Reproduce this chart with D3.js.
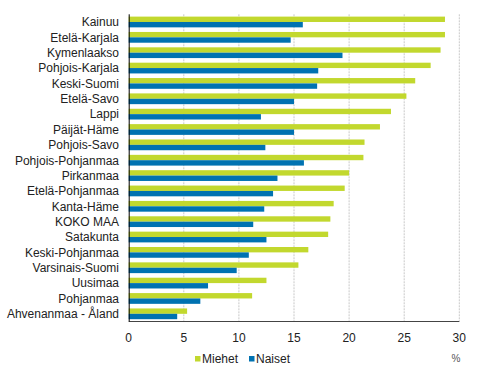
<!DOCTYPE html>
<html>
<head>
<meta charset="utf-8">
<script src="https://cdn.jsdelivr.net/npm/d3@7"></script>
<style>
  body { margin: 0; background: #fff; }
  svg { display: block; font-family: "Liberation Sans", Arial, sans-serif; }
</style>
</head>
<body>
<svg id="chart" width="480" height="378"></svg>
<script>
// Alueet (ylhäältä alas)
const cats = [
  "Kainuu", "Etelä-Karjala", "Kymenlaakso", "Pohjois-Karjala", "Keski-Suomi",
  "Etelä-Savo", "Lappi", "Päijät-Häme", "Pohjois-Savo", "Pohjois-Pohjanmaa",
  "Pirkanmaa", "Etelä-Pohjanmaa", "Kanta-Häme", "KOKO MAA", "Satakunta",
  "Keski-Pohjanmaa", "Varsinais-Suomi", "Uusimaa", "Pohjanmaa", "Ahvenanmaa - Åland"
];
const miehet = [28.7, 28.7, 28.3, 27.4, 26.0, 25.2, 23.8, 22.8, 21.4, 21.3,
                20.0, 19.6, 18.6, 18.3, 18.1, 16.3, 15.4, 12.5, 11.2, 5.3];
const naiset = [15.8, 14.7, 19.4, 17.2, 17.1, 15.0, 12.0, 15.0, 12.4, 15.9,
                13.5, 13.1, 12.3, 11.3, 12.5, 10.9, 9.8, 7.2, 6.5, 4.4];
const seriesNames = ["Miehet", "Naiset"];
const colors = ["#c2d82e", "#0072b1"];
const xTicks = [0, 5, 10, 15, 20, 25, 30];

const svg = d3.select("#chart");
const mLeft = 128.7, mRight = 459.3, mTop = 14.3, mBottom = 321.5;

const x = d3.scaleLinear().domain([0, 30]).range([mLeft, mRight]);
const y = d3.scaleBand().domain(cats).range([mTop, mBottom]).paddingInner(0.3).paddingOuter(0.15);
const ySub = d3.scaleBand().domain(seriesNames).range([0, y.bandwidth()]);

// ruudukko
svg.append("g").selectAll("line")
  .data(xTicks.filter(d => d > 0))
  .join("line")
  .attr("x1", d => x(d)).attr("x2", d => x(d))
  .attr("y1", mTop).attr("y2", mBottom)
  .attr("stroke", "#c8c8c8")
  .attr("stroke-dasharray", "2,1");

// palkit
const rows = cats.map((c, i) => ({ c, v: [miehet[i], naiset[i]] }));
const g = svg.append("g");
rows.forEach(r => {
  seriesNames.forEach((s, j) => {
    g.append("rect")
      .attr("x", x(0))
      .attr("y", y(r.c) + ySub(s))
      .attr("width", x(r.v[j]) - x(0))
      .attr("height", ySub.bandwidth())
      .attr("fill", colors[j]);
  });
});

// akselit
svg.append("line")
  .attr("x1", mLeft).attr("x2", mRight)
  .attr("y1", mBottom).attr("y2", mBottom)
  .attr("stroke", "#444");
svg.append("line")
  .attr("x1", mLeft + 0.5).attr("x2", mLeft + 0.5)
  .attr("y1", mTop).attr("y2", mBottom)
  .attr("stroke", "#000");

// x-akselin luvut
svg.append("g").selectAll("text")
  .data(xTicks)
  .join("text")
  .attr("x", d => x(d))
  .attr("y", 341.5)
  .attr("text-anchor", "middle")
  .attr("font-size", 12)
  .attr("fill", "#222")
  .text(d => d);

// kategoriat
svg.append("g").selectAll("text")
  .data(cats)
  .join("text")
  .attr("x", 119)
  .attr("y", d => y(d) + y.bandwidth() / 2 + 4.3)
  .attr("text-anchor", "end")
  .attr("font-size", 12)
  .attr("fill", "#222")
  .text(d => d);

// selite
const legendX = [195, 249];
seriesNames.forEach((s, j) => {
  svg.append("rect")
    .attr("x", legendX[j]).attr("y", 356)
    .attr("width", 5.5).attr("height", 5.5)
    .attr("fill", colors[j]);
  svg.append("text")
    .attr("x", legendX[j] + 7).attr("y", 362.5)
    .attr("font-size", 12)
    .attr("fill", "#222")
    .text(s);
});

svg.append("text")
  .attr("x", 456).attr("y", 362)
  .attr("text-anchor", "middle")
  .attr("font-size", 10)
  .attr("fill", "#555")
  .text("%");
</script>
</body>
</html>
